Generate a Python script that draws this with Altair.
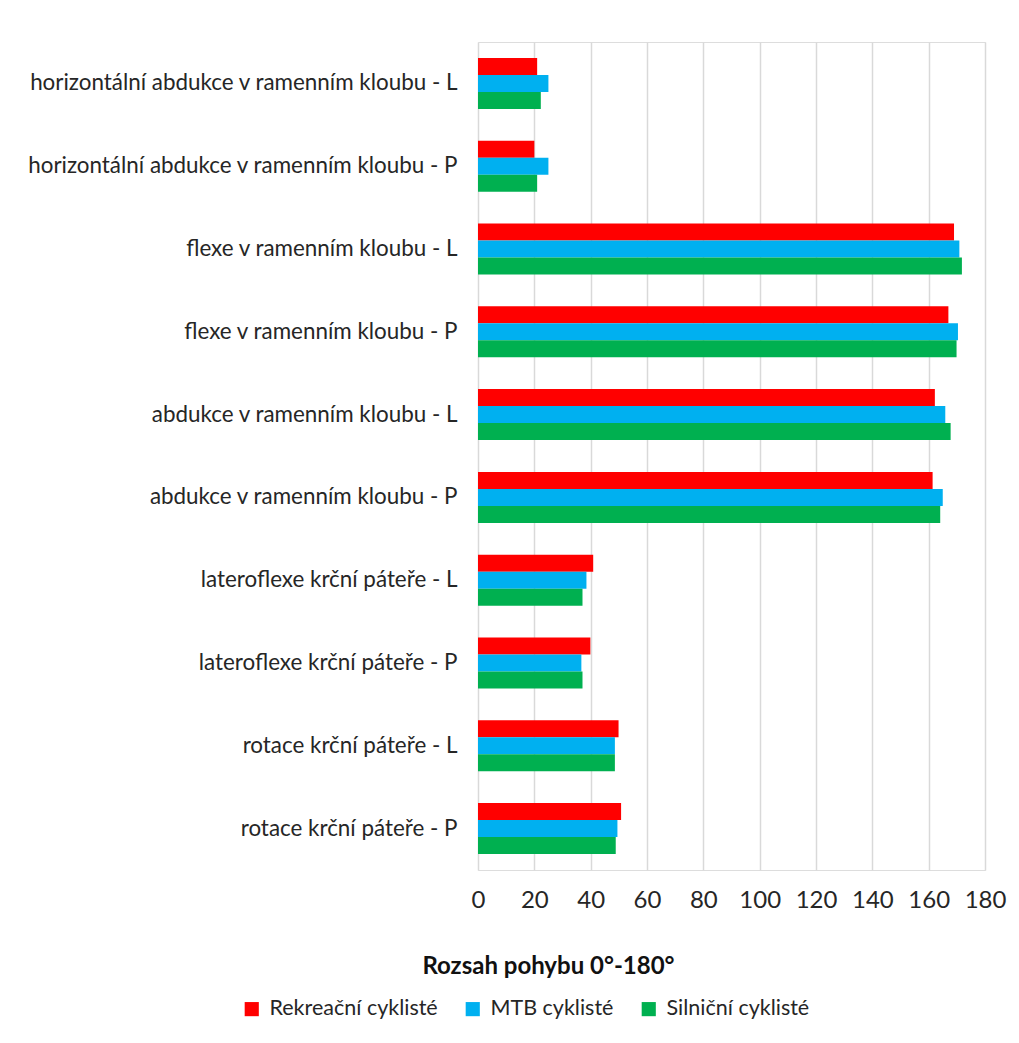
import altair as alt
import pandas as pd

categories = [
    "horizontální abdukce v ramenním kloubu - L",
    "horizontální abdukce v ramenním kloubu - P",
    "flexe v ramenním kloubu - L",
    "flexe v ramenním kloubu - P",
    "abdukce v ramenním kloubu - L",
    "abdukce v ramenním kloubu - P",
    "lateroflexe krční páteře - L",
    "lateroflexe krční páteře - P",
    "rotace krční páteře - L",
    "rotace krční páteře - P",
]
series = ["Rekreační cyklisté", "MTB cyklisté", "Silniční cyklisté"]
rekreacni = [21, 20, 169, 167, 162.2, 161.4, 40.9, 39.9, 49.9, 50.8]
mtb = [25, 25, 170.9, 170.4, 165.9, 165, 38.5, 36.7, 48.6, 49.5]
silnicni = [22.3, 21, 171.8, 169.9, 167.8, 164.1, 37.1, 37.1, 48.6, 48.9]
colors = ["#FF0000", "#00B0F0", "#00B050"]
x_ticks = [0, 20, 40, 60, 80, 100, 120, 140, 160, 180]

rows = []
for name, vals in zip(series, [rekreacni, mtb, silnicni]):
    for c, v in zip(categories, vals):
        rows.append({"kategorie": c, "skupina": name, "hodnota": v})
df = pd.DataFrame(rows)

FONT = "Lato"
TXT = "#262626"

chart = alt.Chart(df).mark_bar().encode(
    y=alt.Y("kategorie:N", sort=categories, title=None,
            scale=alt.Scale(paddingInner=0.384, paddingOuter=0.192),
            axis=alt.Axis(ticks=False, domain=False, grid=False, labelPadding=21,
                          labelFontSize=22.4, labelFont=FONT, labelColor=TXT,
                          labelLimit=600)),
    yOffset=alt.YOffset("skupina:N", sort=series,
                        scale=alt.Scale(paddingInner=0, paddingOuter=0)),
    x=alt.X("hodnota:Q", title="Rozsah pohybu 0°-180°",
            scale=alt.Scale(domain=[0, 180], nice=False),
            axis=alt.Axis(values=x_ticks, ticks=False, domain=False, grid=True,
                          gridColor="#D9D9D9", gridWidth=1.5,
                          labelFontSize=24, labelFont=FONT, labelColor=TXT,
                          labelPadding=18, labelFlush=False, labelOverlap=False,
                          titleFont=FONT, titleFontSize=24, titleFontWeight="bold",
                          titleColor="#111111", titleX=70, titleY=96,
                          titleBaseline="middle", titleAlign="center")),
    color=alt.Color("skupina:N", sort=series,
                    scale=alt.Scale(domain=series, range=colors),
                    legend=alt.Legend(title=None, orient="none", direction="horizontal",
                                      legendX=-237, legendY=956,
                                      symbolType="square", symbolSize=200,
                                      symbolStrokeWidth=0, symbolOpacity=1,
                                      labelFont=FONT, labelFontSize=21.5,
                                      labelColor=TXT, labelOffset=7,
                                      columnPadding=24, labelLimit=400)),
).properties(
    width=507,
    height=828,
    autosize=alt.AutoSizeParams(type="none"),
    padding={"left": 478, "top": 42, "right": 34, "bottom": 173},
).configure_view(stroke=None).configure(background="white")

chart.save("out.html", embed_options={"renderer": "svg", "actions": False})
